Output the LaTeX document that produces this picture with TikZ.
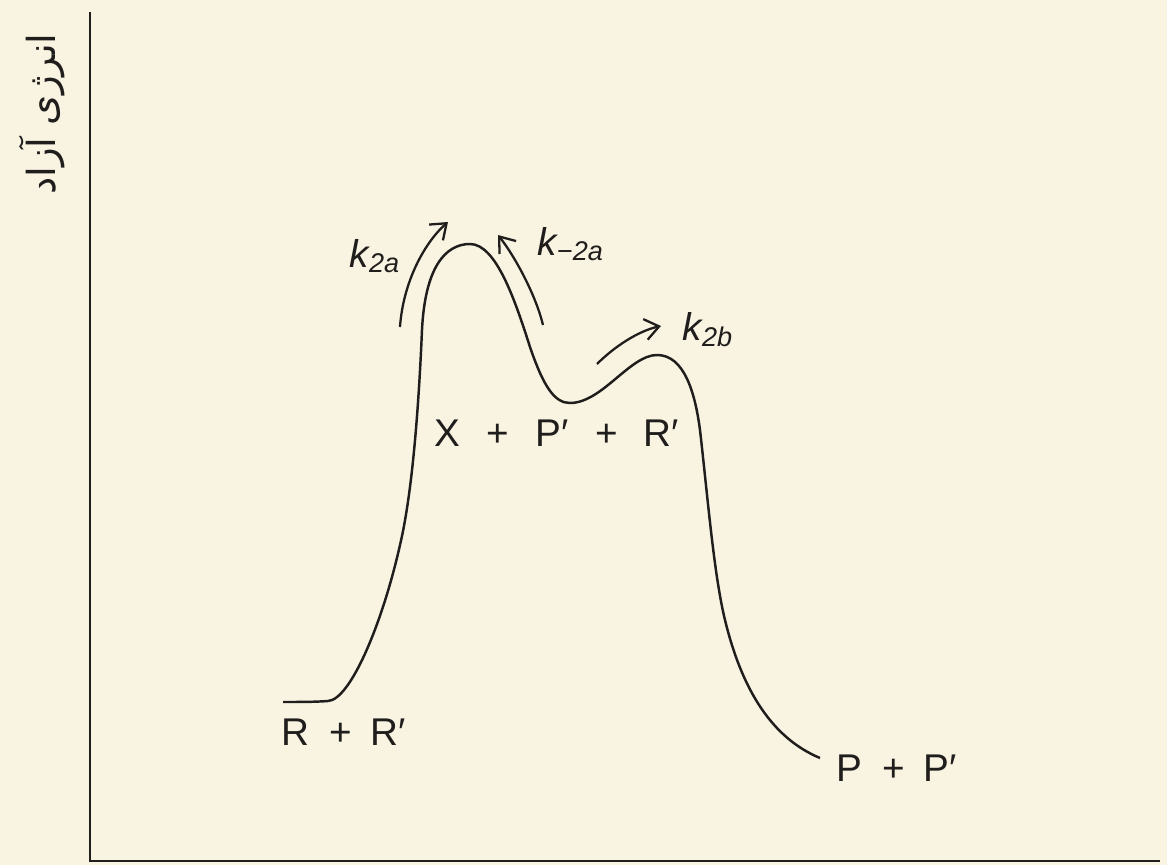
\documentclass[tikz,border=0pt]{standalone}
\usepackage{fontspec}
\setmainfont{Liberation Sans}
\newfontfamily\persianfont[Script=Arabic]{DejaVu Sans}
\TeXXeTstate=1
\usetikzlibrary{arrows.meta}
\definecolor{pPaper}{RGB}{249,243,226}
\definecolor{pInk}{RGB}{32,30,28}

\begin{document}
\begin{tikzpicture}[
	x=0.1mm, y=-0.1mm,
	>={Straight Barb[length=1.4mm,width=2.1mm]},
	curve/.style={draw=pInk, line width=0.7pt},
	axis/.style={draw=pInk, line width=0.65pt},
	rate/.style={->, draw=pInk, line width=0.65pt},
	lbl/.style={text=pInk, inner sep=0pt, font=\fontsize{11}{13}\selectfont},
	klbl/.style={text=pInk, inner sep=0pt, font=\fontsize{11}{13}\selectfont\itshape}
	]
	\fill[pPaper] (0,0) rectangle (1167,865);
	\useasboundingbox (0,0) rectangle (1167,865);

	% axes
	\coordinate (top) at (90,12);
	\coordinate (origin) at (90,861);
	\coordinate (xend) at (1160,861);
	\draw[axis] (top) -- (origin) -- (xend);
	\node[lbl, rotate=90] (ylab) at (42,114) {\fontsize{11}{13}\persianfont\beginR انرژی آزاد\endR};

	% free energy profile
	\draw[curve] (283,702) .. controls (300,702) and (315,702) .. (328,701)
		.. controls (350,700) and (382,625) .. (400,545)
		.. controls (413,490) and (419,400) .. (422,330)
		.. controls (425,268) and (445,244) .. (470,244)
		.. controls (496,244) and (515,300) .. (530,347)
		.. controls (544,388) and (555,403) .. (570,403)
		.. controls (602,403) and (630,355) .. (657,355)
		.. controls (684,355) and (695,392) .. (700,430)
		.. controls (708,500) and (714,575) .. (725,620)
		.. controls (742,690) and (772,738) .. (820,758);

	% rate arrows
	\coordinate (fa1) at (400,327);
	\coordinate (fa2) at (448,222);
	\coordinate (ba1) at (543,325);
	\coordinate (ba2) at (498,235);
	\coordinate (fb1) at (597,364);
	\coordinate (fb2) at (661,326);
	\draw[rate] (fa1) .. controls (403,283) and (424,243) .. (fa2);
	\draw[rate] (ba1) .. controls (536,296) and (516,258) .. (ba2);
	\draw[rate] (fb1) .. controls (614,347) and (638,331) .. (fb2);

	\node[klbl, anchor=base west] (k2a) at (349,267) {k\textsubscript{2a}};
	\node[klbl, anchor=base west] (km2a) at (537,255) {k\textsubscript{\textup{−}2a}};
	\node[klbl, anchor=base west] (k2b) at (682,340) {k\textsubscript{2b}};

	% species
	\node[lbl] (rr) at (344,732) {R\hspace{.5em}+\hspace{.5em}R′};
	\node[lbl] (xpr) at (557,433) {X\hspace{.68em}+\hspace{.68em}P′\hspace{.68em}+\hspace{.68em}R′};
	\node[lbl] (pp) at (897,768) {P\hspace{.5em}+\hspace{.5em}P′};
\end{tikzpicture}
\end{document}
